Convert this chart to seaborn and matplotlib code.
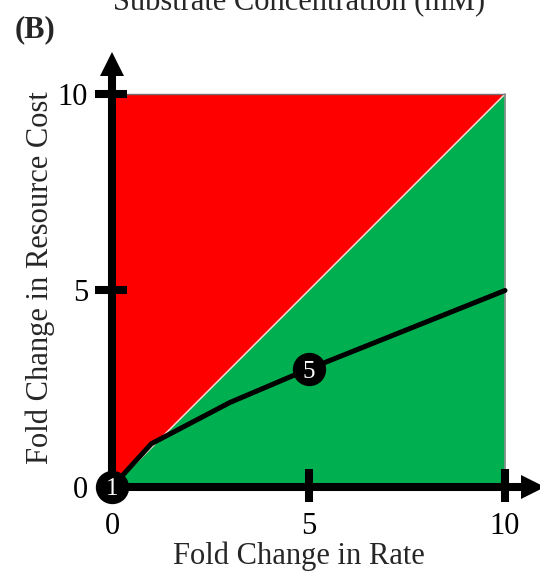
import matplotlib
matplotlib.use("Agg")
import matplotlib.pyplot as plt
import seaborn as sns
import numpy as np
import pandas as pd

# ---- data ----
rate = [0, 1, 3, 5, 7, 10]
cost = [0, 1.1, 2.15, 3.0, 3.8, 5.0]
marked_x = [0, 5]
marked_y = [0, 3.0]
marked_labels = ["1", "5"]
tick_vals = [0, 5, 10]
tick_labels = ["0", "5", "10"]
x_label = "Fold Change in Rate"
y_label = "Fold Change in Resource Cost"
top_title = "Substrate Concentration (mM)"
panel = "(B)"

sns.set_theme(style="white")
plt.rcParams['font.family'] = ['Liberation Serif', 'DejaVu Serif']

fig = plt.figure(figsize=(5.4, 5.72), dpi=100)
ax = fig.add_axes([0, 0, 1, 1])
ax.set_xlim(-2.85, 10.89)
ax.set_ylim(-2.163, 12.39)
ax.axis("off")

diag = np.array([0, 10])
ax.fill_between(diag, diag, 10, color="#FF0000", lw=0, zorder=1)
ax.fill_between(diag, 0, diag, color="#00B050", lw=0, zorder=1)
ax.plot([0, 10], [0, 10], color="#f4e0e0", lw=1.0, zorder=2)
ax.plot([0, 10], [10, 10], color="#707070", lw=1.0, zorder=2)
ax.plot([10, 10], [0, 10], color="#909090", lw=1.2, zorder=2)

df = pd.DataFrame({"rate": rate, "cost": cost})
sns.lineplot(data=df, x="rate", y="cost", color="black", lw=3.6, ax=ax, zorder=4)

# axes with arrows
ax.plot([0, 0], [-0.1, 10.6], color="black", lw=5.8, solid_capstyle="butt", zorder=5)
ax.plot([0, 10.5], [0, 0], color="black", lw=5.8, solid_capstyle="butt", zorder=5)
ax.plot([0], [10.76], marker="^", ms=16.8, color="black", mew=0, zorder=5)
ax.plot([10.72], [0], marker=">", ms=16.8, color="black", mew=0, zorder=5)

fs = 22
for v, lab in zip(tick_vals, tick_labels):
    if v > 0:
        ax.plot([-0.43, 0.38], [v, v], color="black", lw=5.8, solid_capstyle="butt", zorder=5)
        ax.plot([v, v], [-0.38, 0.46], color="black", lw=5.8, solid_capstyle="butt", zorder=5)
    ax.text(-0.61, v, lab, ha="right", va="center_baseline", fontsize=fs, color="black")
    ax.text(v, -1.2, lab, ha="center", va="baseline", fontsize=fs, color="black")

# marked points
ax.scatter(marked_x, marked_y, s=24 ** 2, color="black", zorder=6, linewidths=0)
for mx, my, ml in zip(marked_x, marked_y, marked_labels):
    ax.text(mx, my, ml, ha="center", va="center_baseline", fontsize=18, color="white", zorder=7)

ax.text(4.76, -1.95, x_label, ha="center", va="baseline", fontsize=fs)
ax.text(-1.83, 5.32, y_label, ha="center", va="center", rotation=90, fontsize=fs)
ax.text(4.76, 12.14, top_title, ha="center", va="baseline", fontsize=fs)
ax.text(-2.47, 11.45, panel, ha="left", va="baseline", fontsize=fs, fontweight="bold")

fig.savefig("out.png", dpi=100)
